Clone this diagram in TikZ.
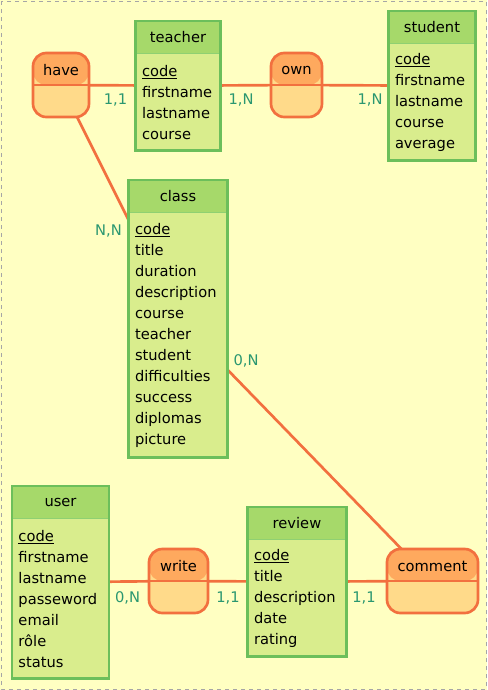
\documentclass[tikz,border=0pt]{standalone}
\usepackage{fontspec}
\setmainfont{DejaVu Sans}
\usetikzlibrary{positioning,backgrounds,fit}

\definecolor{paper}{HTML}{FFFFC2}
\definecolor{headgreen}{HTML}{A6D96A}
\definecolor{bodygreen}{HTML}{D9ED8D}
\definecolor{framegreen}{HTML}{6CBF5B}
\definecolor{sepgreen}{HTML}{8FD072}
\definecolor{assochead}{HTML}{FEA95E}
\definecolor{assocbody}{HTML}{FFDA8A}
\definecolor{assocline}{HTML}{F2703F}
\definecolor{cardteal}{HTML}{2A9770}

\begin{document}
\begin{tikzpicture}[x=0.75pt, y=-0.75pt,
  every node/.style={font=\fontsize{11pt}{15.75pt}\selectfont, inner sep=0pt},
  enthead/.style={fill=headgreen, draw=sepgreen, line width=0.6pt, minimum height=24pt, anchor=north},
  entbody/.style={fill=bodygreen, anchor=north, align=left, inner xsep=4.5pt},
  entframe/.style={draw=framegreen, line width=2pt, inner sep=0pt},
  assoc/.style={draw=assocline, line width=2pt, fill=assocbody, rounded corners=10pt, minimum height=48pt,
    path picture={
      \fill[assochead] (path picture bounding box.north west) rectangle (path picture bounding box.east);
      \draw[assocline, line width=1pt] (path picture bounding box.west) -- (path picture bounding box.east);}},
  link/.style={draw=assocline, line width=2pt},
  card/.style={text=cardteal}]
  \useasboundingbox (0,0) rectangle (487,690);

  % entities
  \node[enthead, minimum width=63pt] (teacher) at (178,21) {teacher};
  \node[entbody, minimum height=72pt, text width=54pt] (teacher attr) at (teacher.south)
    {\underline{code}\\firstname\\lastname\\course};
  \node[entframe, fit=(teacher)(teacher attr)] (teacher box) {};

  \node[enthead, minimum width=64.5pt] (student) at (432,11) {student};
  \node[entbody, minimum height=87pt, text width=55.5pt] (student attr) at (student.south)
    {\underline{code}\\firstname\\lastname\\course\\average};
  \node[entframe, fit=(student)(student attr)] (student box) {};

  \node[enthead, minimum width=73.5pt] (class) at (178,180) {class};
  \node[entbody, minimum height=183pt, text width=64.5pt] (class attr) at (class.south)
    {\underline{code}\\title\\duration\\description\\course\\teacher\\student\\difficulties\\success\\diplomas\\picture};
  \node[entframe, fit=(class)(class attr)] (class box) {};

  \node[enthead, minimum width=72pt] (user) at (60.5,486) {user};
  \node[entbody, minimum height=119.25pt, text width=63pt] (user attr) at (user.south)
    {\underline{code}\\firstname\\lastname\\passeword\\email\\rôle\\status};
  \node[entframe, fit=(user)(user attr)] (user box) {};

  \node[enthead, minimum width=73.5pt] (review) at (297,507) {review};
  \node[entbody, minimum height=87pt, text width=64.5pt] (review attr) at (review.south)
    {\underline{code}\\title\\description\\date\\rating};
  \node[entframe, fit=(review)(review attr)] (review box) {};

  % associations
  \node[assoc, minimum width=42pt] (have) at (61,85) {};
  \node (have name) at ([yshift=11pt]have.center) {have};
  \node[assoc, minimum width=38.25pt] (own) at (296.5,85) {};
  \node (own name) at ([yshift=11pt]own.center) {own};
  \node[assoc, minimum width=44.25pt] (write) at (178.5,581) {};
  \node (write name) at ([yshift=11pt]write.center) {write};
  \node[assoc, minimum width=68.25pt] (comment) at (432.5,581) {};
  \node (comment name) at ([yshift=11pt]comment.center) {comment};

  \begin{scope}[on background layer]
    \fill[paper] (0,0) rectangle (487,690);
    \draw[gray!70, dashed, line width=0.6pt] (1,1) rectangle (486,689);
    \draw[link] (have.center) -- (teacher box.center);
    \draw[link] (have.center) -- (class box.center);
    \draw[link] (own.center) -- (teacher box.center);
    \draw[link] (own.center) -- (student box.center);
    \draw[link] (write.center) -- (user box.center);
    \draw[link] (write.center) -- (review box.center);
    \draw[link] (comment.center) -- (review box.center);
    \draw[link] (comment.center) -- (class box.center);
  \end{scope}

  % cardinalities
  \node[card] (c1) at (115.5,100) {1,1};
  \node[card] (c2) at (241,100) {1,N};
  \node[card] (c3) at (370,100) {1,N};
  \node[card] (c4) at (108.5,231) {N,N};
  \node[card] (c5) at (246,361) {0,N};
  \node[card] (c6) at (127.5,598) {0,N};
  \node[card] (c7) at (228,598) {1,1};
  \node[card] (c8) at (364,598) {1,1};
\end{tikzpicture}
\end{document}
